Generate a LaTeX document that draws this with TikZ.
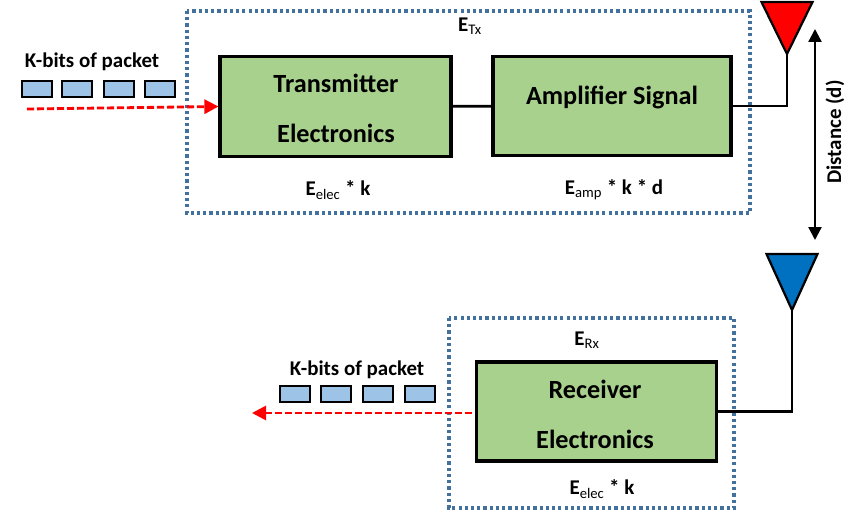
\documentclass[tikz,border=0pt]{standalone}
\usepackage{fontspec}
\setmainfont{Carlito}
\usetikzlibrary{arrows.meta}
\definecolor{blockgreen}{HTML}{A9D18E}
\definecolor{packetblue}{HTML}{9DC3E6}
\definecolor{framedot}{HTML}{41719C}
\definecolor{antennablue}{HTML}{0070C0}
\newcommand{\figuresize}{0.85pt}
\newcommand{\makeantenna}[5]{
	\coordinate (#1) at (#2,#4);
	\fill[#5, draw=black, line width=1.9pt, line join=miter] (#1) -- (#2-25.5,#3) -- (#2+25.5,#3) -- cycle;
}
\newcommand{\makepackets}[3]{
	\foreach \packetx [count=\packetn] in {#2}
		\node[packet] (#1\packetn) at (\packetx,#3) {};
}
\newcommand{\lowtext}[1]{\textsubscript{\mdseries #1}}
\tikzset{
	block/.style={draw=black, fill=blockgreen, line width=2.6pt, inner sep=0pt},
	blocklabel/.style={inner sep=0pt, align=center, font=\fontsize{22.3}{42.5}\selectfont\bfseries},
	packet/.style={draw=black, fill=packetblue, line width=1.6pt, inner sep=0pt,
		minimum width=30*\figuresize, minimum height=16*\figuresize},
	dotframe/.style={draw=framedot, line width=2.8pt, dash pattern=on 2.7pt off 2.6pt},
	caption/.style={font=\fontsize{17.8}{20}\selectfont\bfseries, inner sep=0pt},
	wire/.style={draw=black, line width=2.3pt},
	redflow/.style={draw=red, line width=2.4pt, dash pattern=on 6pt off 2.5pt,
		-{Triangle[length=12pt,width=12pt]}},
}
\begin{document}
\begin{tikzpicture}[x=\figuresize,y=-\figuresize]
	\useasboundingbox (0,0) rectangle (850,511);

	% transmitter side
	\draw[dotframe] (187,11) rectangle (750,213);
	\node[block, minimum width=231*\figuresize, minimum height=100*\figuresize] (transmitter) at (335.5,106.5) {};
	\node[block, minimum width=238*\figuresize, minimum height=99*\figuresize] (amplifier) at (612,106) {};
	\node[blocklabel] (translabel) at (336,108.5) {Transmitter\\Electronics};
	\node[blocklabel] (amplabel) at (612,97) {Amplifier Signal};
	\node[caption] (etx) at (470,26) {E\lowtext{Tx}};
	\node[caption] (eelectx) at (338,190) {E\lowtext{elec} * k};
	\node[caption] (eamp) at (614,190) {E\lowtext{amp} * k * d};
	\node[caption] (bitstx) at (92,62) {K-bits of packet};
	\makepackets{ptx}{37,77,119,160}{89}
	\coordinate (flowtx) at (27,109);
	\draw[redflow] (flowtx) -- (transmitter.west);
	\draw[wire] (transmitter) -- (amplifier);

	\makeantenna{tiptx}{787}{2}{54}{red}
	\draw[wire] (amplifier.east) -- (tiptx |- amplifier.east) -- (tiptx);

	% distance between the antennas
	\coordinate (disttop) at (815,29);
	\coordinate (distbot) at (815,240);
	\draw[black, line width=1.9pt, {Triangle[length=11pt,width=11pt]}-{Triangle[length=11pt,width=11pt]}] (disttop) -- (distbot);
	\node[caption, rotate=90] (dist) at (835,132) {Distance (d)};

	% receiver side
	\draw[dotframe] (449,318) rectangle (734,508);
	\node[block, minimum width=240*\figuresize, minimum height=99*\figuresize] (receiver) at (596.5,411.5) {};
	\node[blocklabel] (reclabel) at (595,414) {Receiver\\Electronics};
	\node[caption] (erx) at (587,340) {E\lowtext{Rx}};
	\node[caption] (eelecrx) at (602,489) {E\lowtext{elec} * k};
	\node[caption] (bitsrx) at (357,370) {K-bits of packet};
	\makepackets{prx}{295,336,378,420}{394}
	\coordinate (flowrx) at (252,413);
	\coordinate (flowrxstart) at (472,413);
	\draw[redflow] (flowrxstart) -- (flowrx);

	\makeantenna{tiprx}{792}{254}{310}{antennablue}
	\draw[wire] (receiver.east) -- (tiprx |- receiver.east) -- (tiprx);
\end{tikzpicture}
\end{document}
